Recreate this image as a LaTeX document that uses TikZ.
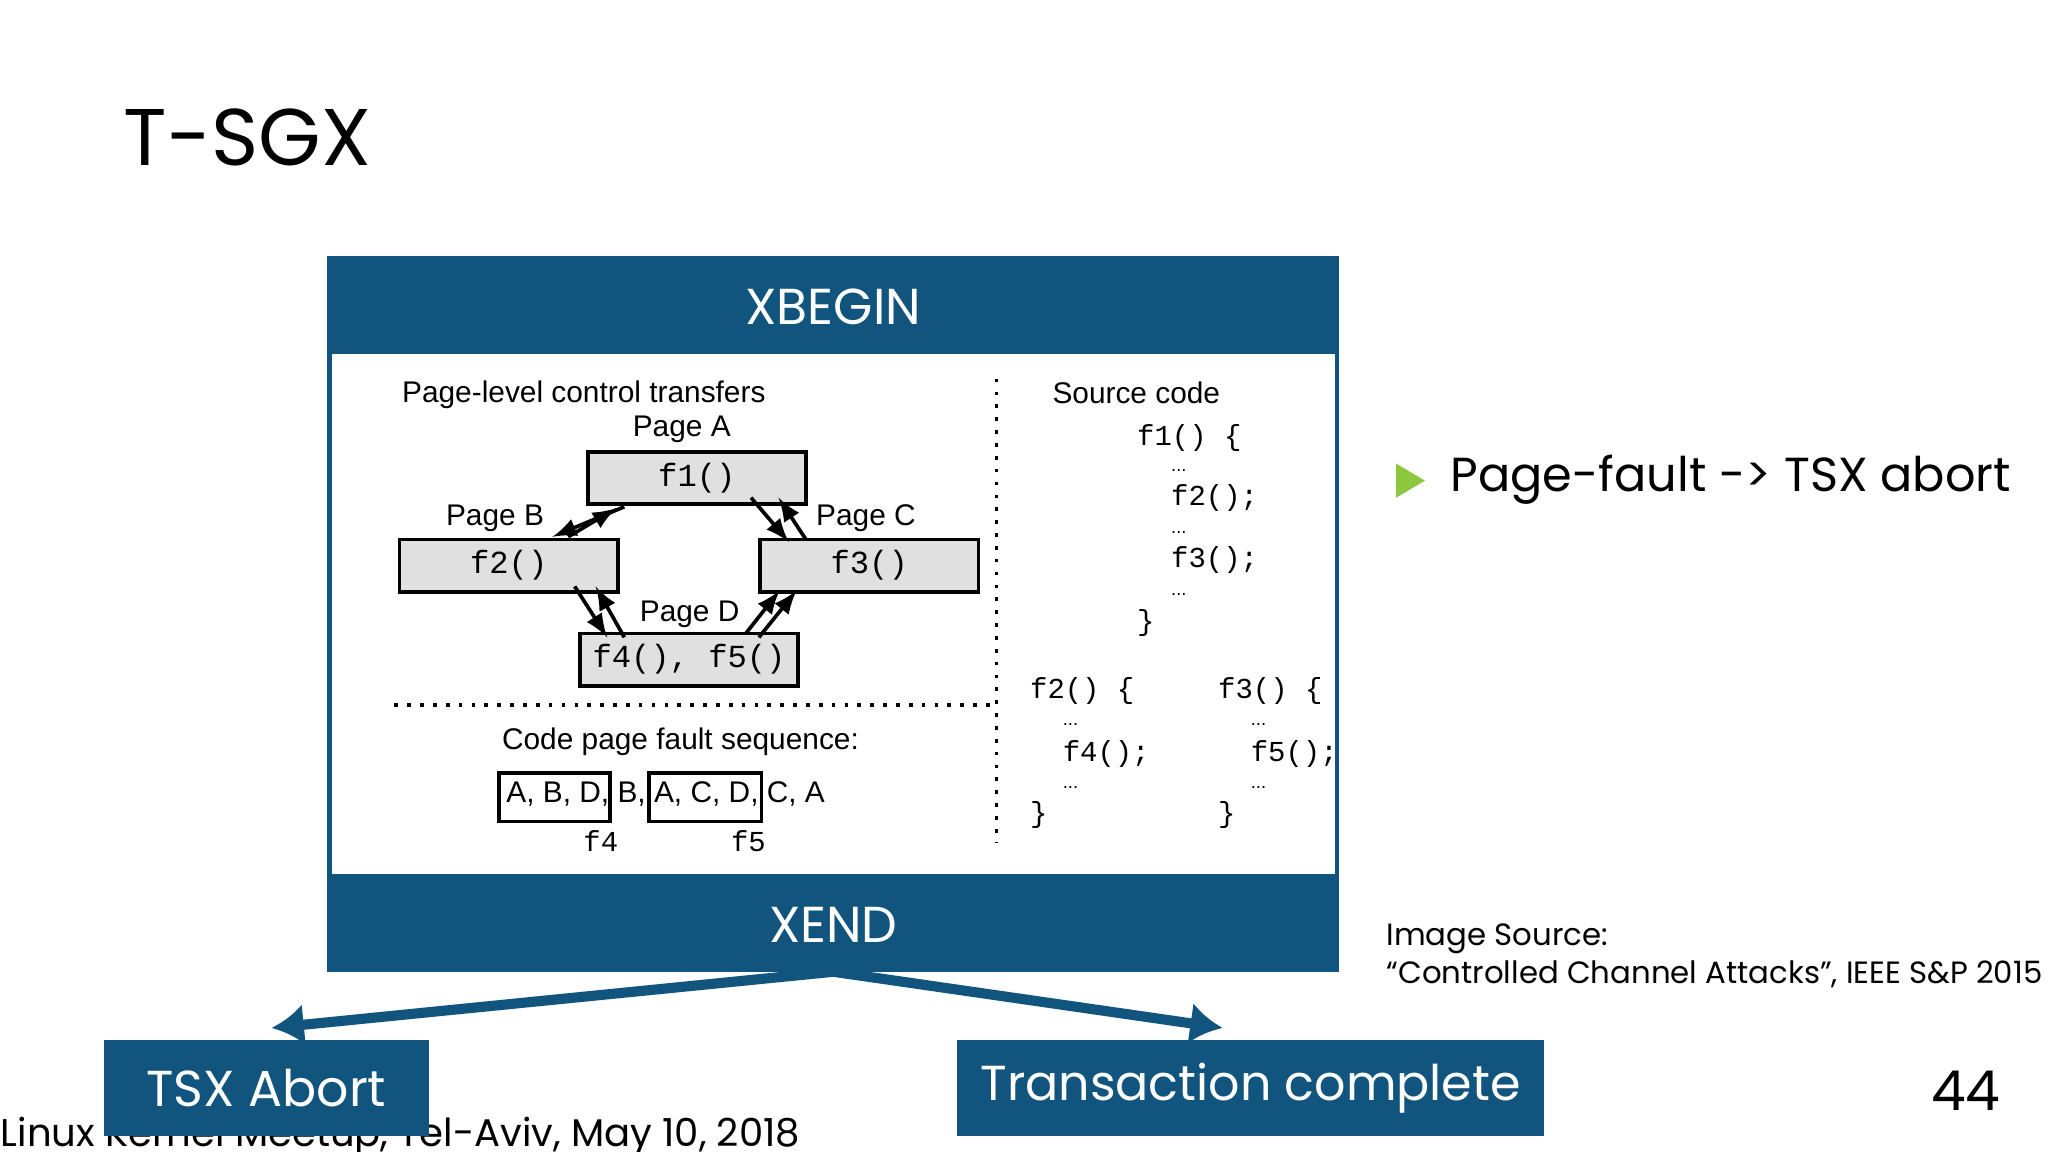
\documentclass[tikz,border=0pt]{standalone}
\usepackage{fontspec}
\usetikzlibrary{arrows.meta}
\setmainfont{Poppins}
\newfontfamily\dsans{Liberation Sans}
\setmonofont{Liberation Mono}
\definecolor{sgxblue}{HTML}{11557F}
\definecolor{boxgray}{HTML}{E0E0E0}
\definecolor{bulletgreen}{HTML}{8DC63F}
\begin{document}
\begin{tikzpicture}[x=0.01cm,y=-0.01cm,
  pg/.style={draw,thick,fill=boxgray,inner sep=0,minimum width=1.67cm,minimum height=0.40cm,font=\ttfamily\fontsize{7pt}{8pt}\selectfont},
  lab/.style={font=\dsans\fontsize{6.5pt}{7pt}\selectfont,inner sep=0},
  code/.style={font=\ttfamily\fontsize{6.3pt}{7pt}\selectfont,inner sep=0,anchor=west},
  dots/.style={font=\dsans\fontsize{4pt}{4pt}\selectfont,inner sep=0,anchor=west},
  ar/.style={-latex,thick},
  band/.style={fill=sgxblue,draw=none}]
\useasboundingbox (0,0) rectangle (1568,882);
\fill[white] (0,0) rectangle (1568,882);
\node[anchor=west,font=\fontsize{17.5pt}{19pt}\selectfont,inner sep=0] (title) at (94,105) {T-SGX};
% main box
\fill[band] (250,196) rectangle (1025,744);
\fill[white] (254,271) rectangle (1022,669);
\node[white,font=\fontsize{11pt}{12pt}\selectfont] (xb) at (638,235) {XBEGIN};
\node[white,font=\fontsize{11pt}{12pt}\selectfont] (xe) at (638,708) {XEND};
% footer
\node[anchor=base west,font=\fontsize{8.4pt}{9pt}\selectfont,inner sep=0] (foot) at (0,878) {Linux Kernel Meetup, Tel-Aviv, May 10, 2018};
\node[band,minimum width=2.48cm,minimum height=0.74cm,text=white,font=\fontsize{11pt}{12pt}\selectfont] (abort) at (204,833) {TSX Abort};
\node[band,minimum width=4.49cm,minimum height=0.74cm,text=white,font=\fontsize{10.7pt}{12pt}\selectfont] (done) at (957.5,833) {Transaction complete};
\coordinate (src) at (638,744);
\coordinate (ta) at (208,787);
\coordinate (tb) at (936,787);
\draw[sgxblue,line width=2.2pt,-{Latex[length=7pt,width=9pt]}] (src) -- (ta);
\draw[sgxblue,line width=2.2pt,-{Latex[length=7pt,width=9pt]}] (src) -- (tb);
\node[font=\fontsize{12pt}{13pt}\selectfont] (num) at (1505,835) {44};
\fill[bulletgreen] (1069,355) -- (1091,368) -- (1069,381) -- cycle;
\node[anchor=west,font=\fontsize{10.4pt}{12pt}\selectfont,inner sep=0] (bul) at (1110,367) {Page-fault -> TSX abort};
\node[anchor=west,font=\fontsize{6.7pt}{8pt}\selectfont,inner sep=0] (is1) at (1061,719) {Image Source:};
\node[anchor=west,font=\fontsize{6.7pt}{8pt}\selectfont,inner sep=0] (is2) at (1061,746) {“Controlled Channel Attacks”, IEEE S\&P 2015};
% inner diagram
\node[lab] (plc) at (447,302) {Page-level control transfers};
\node[lab] (pa) at (522,329) {Page A};
\node[lab] (pb) at (379,397) {Page B};
\node[lab] (pc) at (663,397) {Page C};
\node[lab] (pd) at (528,470) {Page D};
\node[pg] (f1) at (533.5,366) {f1()};
\node[pg] (f2) at (389.5,433) {f2()};
\node[pg] (f3) at (665.5,433) {f3()};
\node[pg] (f4) at (527.5,505) {f4(), f5()};
\draw[ar] (435,411) -- (472,389);
\draw[ar] (478,388) -- (423,411);
\draw[ar] (575,381) -- (604,415);
\draw[ar] (617,413) -- (596,381);
\draw[ar] (478,488) -- (456,449);
\draw[ar] (440,449) -- (465,488);
\draw[ar] (571,485) -- (597,452);
\draw[ar] (581,488) -- (610,452);
\draw[dotted,thick] (763,290) -- (763,645);
\draw[dotted,thick] (302,540) -- (763,540);
\node[lab] (cps) at (521,568) {Code page fault sequence:};
\node[lab,anchor=west] (seq) at (387,608) {A, B, D, B, A, C, D, C, A};
\draw[thick] (382,592) rectangle (467,629);
\draw[thick] (497,592) rectangle (583,629);
\node[code,anchor=center] (l4) at (460,644) {f4};
\node[code,anchor=center] (l5) at (573,644) {f5};
\node[lab] (sc) at (870,301) {Source code};
\node[code] (c1) at (870,335) {f1() \{};
\node[dots] (d1) at (896,360) {...};
\node[code] (c2) at (896,381) {f2();};
\node[dots] (d2) at (896,408) {...};
\node[code] (c3) at (896,429) {f3();};
\node[dots] (d3) at (896,455) {...};
\node[code] (c4) at (870,477) {\}};
\node[code] (e1) at (788,529) {f2() \{};
\node[dots] (e2) at (813,555) {...};
\node[code] (e3) at (813,577) {f4();};
\node[dots] (e4) at (813,603) {...};
\node[code] (e5) at (788,624) {\}};
\node[code] (g1) at (932,529) {f3() \{};
\node[dots] (g2) at (957,555) {...};
\node[code] (g3) at (957,577) {f5();};
\node[dots] (g4) at (957,603) {...};
\node[code] (g5) at (932,624) {\}};
\end{tikzpicture}
\end{document}
